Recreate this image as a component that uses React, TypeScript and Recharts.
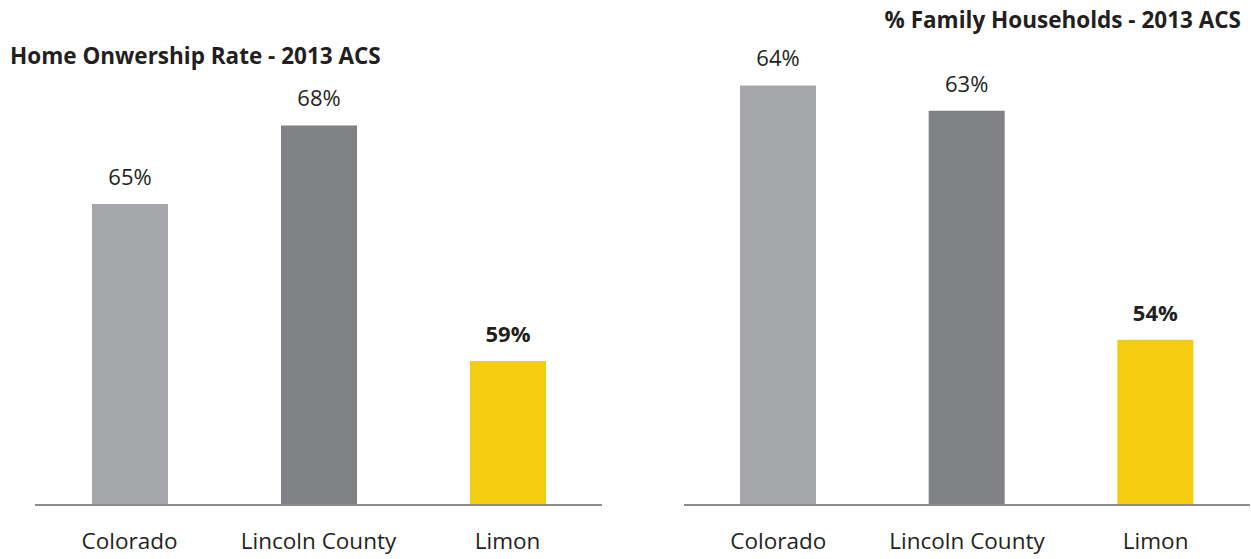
import React from 'react';
import { BarChart, Bar, XAxis, YAxis, Cell, LabelList } from 'recharts';

// Shared categories and bar colours
const places = ['Colorado', 'Lincoln County', 'Limon'];
const barColors = ['#a6a7ab', '#808185', '#f4cd12'];

// Home ownership rate (%), 2013 ACS
const ownershipRates = [65, 68, 59];
// Family households (%), 2013 ACS
const familyShares = [64, 63, 54];

const FONT = '"Open Sans", "Noto Sans", sans-serif';
const TEXT = '#231f20';

const toRows = (values: number[]) => places.map((name, i) => ({ name, value: values[i] }));

const CategoryTick = (props: any) => {
  const { x, y, payload } = props;
  return (
    <text x={x} y={y + 36} textAnchor="middle" fill={TEXT} fontFamily={FONT} fontSize={22.5}>
      {payload.value}
    </text>
  );
};

// Limon (last bar) gets a bold label
const ValueLabel = (props: any) => {
  const { x, y, width, value, index } = props;
  return (
    <text
      x={x + width / 2}
      y={y - 19}
      textAnchor="middle"
      fill={TEXT}
      fontFamily={FONT}
      fontSize={22}
      fontWeight={index === places.length - 1 ? 700 : 400}
    >
      {`${value}%`}
    </text>
  );
};

interface PanelProps {
  values: number[];
  domain: [number, number];
  width: number;
  left: number;
  marginLeft: number;
  marginRight: number;
}

function Panel({ values, domain, width, left, marginLeft, marginRight }: PanelProps) {
  const rows = toRows(values);
  return (
    <div style={{ position: 'absolute', left, top: 0 }}>
      <BarChart
        width={width}
        height={559}
        data={rows}
        margin={{ top: 60, right: marginRight, left: marginLeft, bottom: 14 }}
      >
        <YAxis hide domain={domain} allowDataOverflow />
        <XAxis
          dataKey="name"
          height={40}
          axisLine={{ stroke: '#8b8c90', strokeWidth: 2 }}
          tickLine={false}
          tick={<CategoryTick />}
          interval={0}
        />
        <Bar dataKey="value" barSize={76} isAnimationActive={false}>
          {rows.map((r, i) => (
            <Cell key={r.name} fill={barColors[i]} />
          ))}
          <LabelList dataKey="value" content={<ValueLabel />} />
        </Bar>
      </BarChart>
    </div>
  );
}

const titleStyle: React.CSSProperties = {
  position: 'absolute',
  fontFamily: FONT,
  fontWeight: 700,
  fontSize: 22.5,
  lineHeight: '22px',
  color: TEXT,
  whiteSpace: 'nowrap',
};

export default function App() {
  return (
    <div style={{ position: 'absolute', left: 0, top: 0, width: 1251, height: 559, background: '#fff' }}>
      <Panel values={ownershipRates} domain={[53.5, 70.5]} width={640} left={0} marginLeft={35} marginRight={38} />
      <Panel values={familyShares} domain={[47.5, 65]} width={631} left={620} marginLeft={64} marginRight={1} />
      <div style={{ ...titleStyle, left: 10, top: 45 }}>Home Onwership Rate - 2013 ACS</div>
      <div style={{ ...titleStyle, right: 10, top: 9 }}>% Family Households - 2013 ACS</div>
    </div>
  );
}
